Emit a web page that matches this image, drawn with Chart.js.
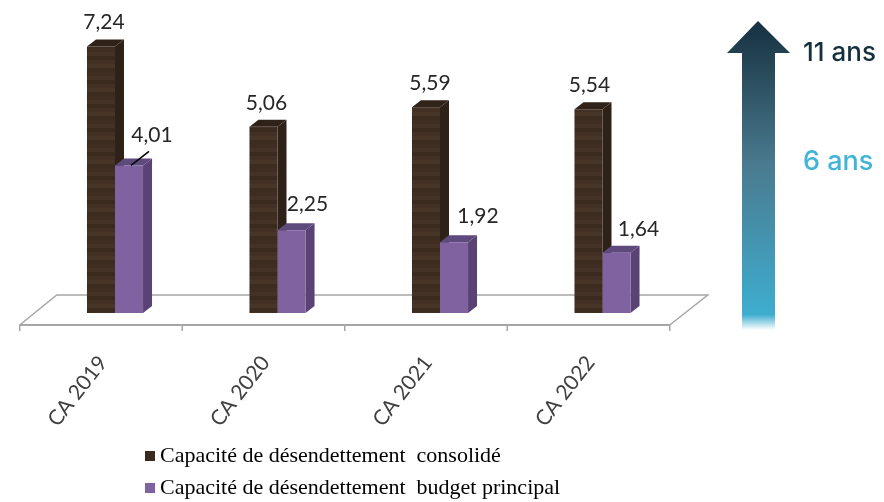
<!DOCTYPE html>
<html>
<head>
<meta charset="utf-8">
<style>
  html, body { margin: 0; padding: 0; background: #fff; }
  canvas { display: block; }
</style>
</head>
<body>
<canvas id="myChart" width="884" height="502"></canvas>
<script src="https://cdn.jsdelivr.net/npm/chart.js@4"></script>
<script>
const categories = ['CA 2019', 'CA 2020', 'CA 2021', 'CA 2022'];
const consolide = [7.24, 5.06, 5.59, 5.54];
const budgetPrincipal = [4.01, 2.25, 1.92, 1.64];
const seriesNames = ['Capacité de désendettement  consolidé', 'Capacité de désendettement  budget principal'];

// label nudges by hand, the original labels are not placed regularly
const labelNudges = [
  [[3, -24], [3, -24], [4, -24], [1, -24]],
  [[23, -30], [16, -26], [24, -26], [22, -23]]
];

const DEPTH_X = 9;
const DEPTH_Y = 7;
const LEGEND_COLORS = ['#3b2a1e', '#8062a0'];

// wood-like stripes of the dark bars
function stripes() {
  const c = document.createElement('canvas');
  c.width = 4;
  c.height = 24;
  const g = c.getContext('2d');
  const cols = ['#3f2d21', '#443226', '#3a291d', '#413023', '#473528', '#3c2b1f'];
  cols.forEach((col, i) => {
    g.fillStyle = col;
    g.fillRect(0, i * 4, 4, 4);
  });
  return g.createPattern(c, 'repeat');
}

function poly(ctx, pts, fill) {
  ctx.beginPath();
  pts.forEach((p, i) => i ? ctx.lineTo(p[0], p[1]) : ctx.moveTo(p[0], p[1]));
  ctx.closePath();
  ctx.fillStyle = fill;
  ctx.fill();
}

const floorAndSides = {
  id: 'floorAndSides',
  afterLayout(chart) {
    const lg = chart.legend;
    lg.left = 135;
    lg.top = 435;
    lg.right = lg.left + lg.width;
    lg.bottom = lg.top + lg.height;
  },
  beforeDatasetsDraw(chart) {
    const ctx = chart.ctx;
    const x = chart.scales.x;
    const base = chart.scales.y.getPixelForValue(0);
    const step = x.getPixelForTick(1) - x.getPixelForTick(0);
    const front = base + 12;
    const back = base - 18;
    const left = x.left - 14;
    const right = x.right - 14;

    ctx.save();
    ctx.strokeStyle = '#a6a6a6';
    ctx.lineWidth = 1.5;
    ctx.beginPath();
    ctx.moveTo(left, front);
    ctx.lineTo(left + 37, back);
    ctx.lineTo(right + 38, back);
    ctx.lineTo(right, front);
    ctx.stroke();
    ctx.lineWidth = 2;
    ctx.beginPath();
    ctx.moveTo(left, front);
    ctx.lineTo(right, front);
    ctx.stroke();
    ctx.lineWidth = 1.5;
    for (let i = 0; i <= categories.length; i++) {
      ctx.beginPath();
      ctx.moveTo(left + i * step, front);
      ctx.lineTo(left + i * step, front + 6);
      ctx.stroke();
    }

    const sideCols = [['#2e2118', '#2f2218'], ['#5a4274', '#5f4a7e']];
    chart.data.datasets.forEach((ds, d) => {
      chart.getDatasetMeta(d).data.forEach(bar => {
        const l = bar.x - bar.width / 2;
        const r = bar.x + bar.width / 2;
        poly(ctx, [[r, bar.y], [r + DEPTH_X, bar.y - DEPTH_Y], [r + DEPTH_X, bar.base - DEPTH_Y], [r, bar.base]], sideCols[d][0]);
        poly(ctx, [[l, bar.y], [l + DEPTH_X, bar.y - DEPTH_Y], [r + DEPTH_X, bar.y - DEPTH_Y], [r, bar.y]], sideCols[d][1]);
      });
    });
    ctx.restore();
  },
  afterDatasetsDraw(chart) {
    const ctx = chart.ctx;
    ctx.save();
    ctx.font = '21px Lato';
    ctx.fillStyle = '#262626';
    ctx.textAlign = 'center';
    ctx.textBaseline = 'middle';
    chart.data.datasets.forEach((ds, d) => {
      chart.getDatasetMeta(d).data.forEach((bar, i) => {
        const n = labelNudges[d][i];
        ctx.fillText(ds.data[i].toFixed(2).replace('.', ','), bar.x + n[0], bar.y + n[1]);
      });
    });
    // leader line of the first purple bar
    const b = chart.getDatasetMeta(1).data[0];
    ctx.strokeStyle = '#000';
    ctx.lineWidth = 1.5;
    ctx.beginPath();
    ctx.moveTo(b.x + 2, b.y);
    ctx.lineTo(b.x + 20, b.y - 14);
    ctx.stroke();

    // legend squares sit closer to the text than the library allows
    chart.legend.legendHitBoxes.forEach((hit, i) => {
      ctx.fillStyle = LEGEND_COLORS[i];
      ctx.fillRect(hit.left, hit.top + hit.height / 2 - 5, 10, 10);
    });

    // arrow on the right
    const grad = ctx.createLinearGradient(0, 21, 0, 330);
    grad.addColorStop(0, '#16303f');
    grad.addColorStop(0.47, '#4a7b90');
    grad.addColorStop(0.95, '#3eadcf');
    grad.addColorStop(1, '#ffffff');
    poly(ctx, [[758, 21], [790, 53], [775, 53], [775, 330], [742, 330], [742, 53], [727, 53]], grad);

    ctx.textAlign = 'left';
    ctx.font = '500 26px Inter';
    ctx.fillStyle = '#16303f';
    ctx.fillText('11 ans', 803, 53);
    ctx.font = '500 27px Inter';
    ctx.fillStyle = '#41b4d8';
    ctx.fillText('6 ans', 803, 162);
    ctx.restore();
  }
};

new Chart(document.getElementById('myChart'), {
  type: 'bar',
  plugins: [floorAndSides],
  data: {
    labels: categories,
    datasets: [
      { label: seriesNames[0], data: consolide, backgroundColor: stripes(), categoryPercentage: 0.345, barPercentage: 1 },
      { label: seriesNames[1], data: budgetPrincipal, backgroundColor: '#8062a0', categoryPercentage: 0.345, barPercentage: 1 }
    ]
  },
  options: {
    responsive: false,
    animation: false,
    layout: { padding: { left: 33.75, right: 200.25, top: 18.6, bottom: 0 } },
    plugins: {
      tooltip: { enabled: false },
      legend: {
        position: 'chartArea',
        align: 'start',
        labels: {
          boxWidth: 4,
          boxHeight: 10,
          padding: 10,
          color: '#404040',
          font: { family: 'Liberation Serif', size: 22 },
          generateLabels: chart => chart.data.datasets.map((ds, i) => ({
            text: ds.label,
            fillStyle: 'rgba(0,0,0,0)',
            strokeStyle: 'rgba(0,0,0,0)',
            lineWidth: 0,
            datasetIndex: i,
            hidden: false
          }))
        }
      }
    },
    scales: {
      x: {
        grid: { display: false, drawTicks: false },
        border: { display: false },
        afterFit(scale) { scale.height = 189; },
        ticks: {
          autoSkip: false,
          minRotation: 52,
          maxRotation: 52,
          padding: 38,
          labelOffset: -12,
          color: '#404040',
          font: { family: 'Lato', size: 21 }
        }
      },
      y: { display: false, min: 0, max: 8 }
    }
  }
});
</script>
</body>
</html>
